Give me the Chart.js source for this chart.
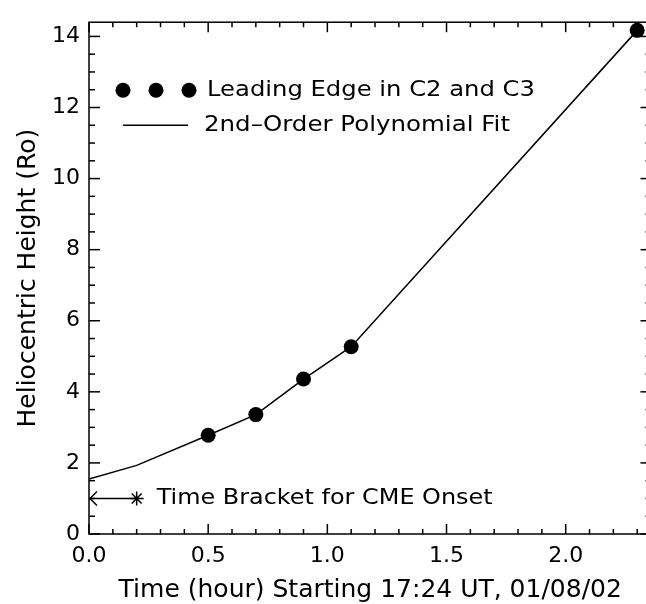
<!DOCTYPE html>
<html>
<head>
<meta charset="utf-8">
<script src="https://cdn.jsdelivr.net/npm/chart.js@4"></script>
<style>
  html, body { margin: 0; padding: 0; background: #fff; overflow: hidden; }
  #wrap { width: 646px; height: 604px; overflow: hidden; }
</style>
</head>
<body>
<div id="wrap"><canvas id="grafico" width="660" height="604"></canvas></div>
<script>
// dados
const fitTime = [0.0, 0.2, 0.5, 0.7, 0.9, 1.1, 2.3];
const fitHeight = [1.55, 1.93, 2.78, 3.36, 4.36, 5.27, 14.17];
const edgeTime = [0.5, 0.7, 0.9, 1.1, 2.3];
const edgeHeight = [2.78, 3.36, 4.36, 5.27, 14.17];
const bracketTime = [0.0, 0.2];
const bracketHeight = [1.0, 1.0];
const xTicks = [0.0, 0.5, 1.0, 1.5, 2.0];
const yTicks = [0, 2, 4, 6, 8, 10, 12, 14];

const FONT = '"DejaVu Sans", sans-serif';
const toXY = (xs, ys) => xs.map((v, i) => ({ x: v, y: ys[i] }));

// escreve texto ajustando a largura
function texto(ctx, str, x, y, largura) {
  ctx.save();
  const w = ctx.measureText(str).width;
  ctx.translate(x, y);
  ctx.scale(largura / w, 1);
  ctx.fillText(str, 0, 0);
  ctx.restore();
}

// moldura, ticks internos, legenda e seta
const moldura = {
  id: 'moldura',
  afterDraw(chart) {
    const { ctx, chartArea: a, scales: { x, y } } = chart;
    ctx.save();
    ctx.strokeStyle = '#000';
    ctx.fillStyle = '#000';
    ctx.lineWidth = 1.5;
    const seg = (x1, y1, x2, y2) => { ctx.beginPath(); ctx.moveTo(x1, y1); ctx.lineTo(x2, y2); ctx.stroke(); };

    ctx.strokeRect(a.left, a.top, a.right - a.left, a.bottom - a.top);

    for (let i = 0; i * 0.1 <= x.max + 1e-9; i++) {
      const px = x.getPixelForValue(i * 0.1);
      const len = i % 5 === 0 ? 10 : 5;
      seg(px, a.bottom, px, a.bottom - len);
      seg(px, a.top, px, a.top + len);
    }
    for (let i = 0; i * 0.5 <= y.max + 1e-9; i++) {
      const py = y.getPixelForValue(i * 0.5);
      const len = i % 4 === 0 ? 11 : 6;
      seg(a.left, py, a.left + len, py);
      seg(a.right, py, a.right - len, py);
    }

    // ponta da seta do intervalo
    const ax = x.getPixelForValue(bracketTime[0]);
    const ay = y.getPixelForValue(bracketHeight[0]);
    seg(ax + 8, ay - 7, ax + 1, ay);
    seg(ax + 1, ay, ax + 8, ay + 7);

    ctx.font = '22px ' + FONT;
    ctx.textBaseline = 'middle';
    const sx = x.getPixelForValue(bracketTime[1]);
    texto(ctx, 'Time Bracket for CME Onset', sx + 20, ay, 336);

    // legenda
    const ly1 = a.top + 68, ly2 = a.top + 103;
    [34, 67, 100].forEach(dx => {
      ctx.beginPath();
      ctx.arc(a.left + dx, ly1, 7.5, 0, Math.PI * 2);
      ctx.fill();
    });
    texto(ctx, 'Leading Edge in C2 and C3', a.left + 118, ly1, 328);
    seg(a.left + 34, ly2, a.left + 99, ly2);
    texto(ctx, '2nd\u2013Order Polynomial Fit', a.left + 115, ly2, 306);
    ctx.restore();
  }
};

new Chart(document.getElementById('grafico'), {
  type: 'scatter',
  data: {
    datasets: [
      {
        data: toXY(fitTime, fitHeight),
        showLine: true,
        borderColor: '#000',
        borderWidth: 1.5,
        pointRadius: 0,
        tension: 0
      },
      {
        data: toXY(edgeTime, edgeHeight),
        pointRadius: 7.5,
        pointBackgroundColor: '#000',
        pointBorderWidth: 0
      },
      {
        data: toXY(bracketTime, bracketHeight),
        showLine: true,
        borderColor: '#000',
        borderWidth: 1.5,
        pointStyle: 'star',
        pointRadius: [0, 7],
        pointBorderColor: '#000',
        pointBorderWidth: 1.5
      }
    ]
  },
  options: {
    responsive: false,
    animation: false,
    devicePixelRatio: 1,
    layout: { padding: { top: 14, right: 8, left: 0, bottom: 0 } },
    plugins: { legend: { display: false }, tooltip: { enabled: false } },
    scales: {
      x: {
        type: 'linear',
        min: 0,
        max: 2.36,
        afterBuildTicks: s => { s.ticks = xTicks.map(v => ({ value: v })); },
        afterFit: s => { s.height = 70; },
        grid: { display: false, drawTicks: false },
        border: { display: false },
        ticks: {
          color: '#000',
          font: { family: FONT, size: 22 },
          padding: 9,
          maxRotation: 0,
          callback: v => v.toFixed(1)
        },
        title: {
          display: true,
          text: 'Time (hour) Starting 17:24 UT, 01/08/02',
          color: '#000',
          font: { family: FONT, size: 25 },
          padding: { top: 0, bottom: -1 }
        }
      },
      y: {
        type: 'linear',
        min: 0,
        max: 14.4,
        afterBuildTicks: s => { s.ticks = yTicks.map(v => ({ value: v })); },
        afterFit: s => { s.width = 89; },
        grid: { display: false, drawTicks: false },
        border: { display: false },
        ticks: {
          color: '#000',
          font: { family: FONT, size: 22 },
          padding: 9
        },
        title: {
          display: true,
          text: 'Heliocentric Height (Ro)',
          color: '#000',
          font: { family: FONT, size: 25 },
          padding: { top: 13, bottom: 0 }
        }
      }
    }
  },
  plugins: [moldura]
});
</script>
</body>
</html>
